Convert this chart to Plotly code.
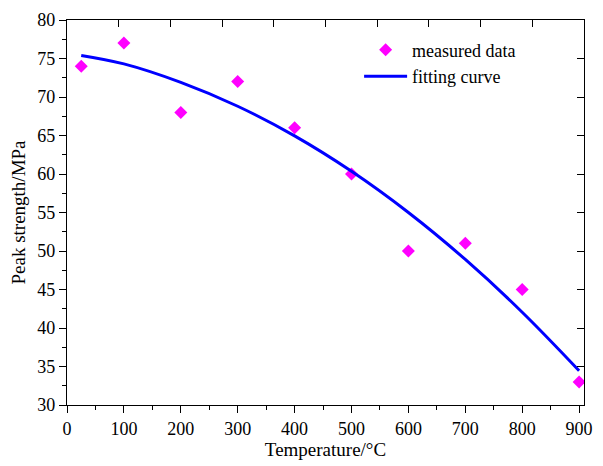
import plotly.graph_objects as go

# Measured peak strength at each temperature
temperature = [25, 100, 200, 300, 400, 500, 600, 700, 800, 900]
peak_strength = [74, 77, 68, 72, 66, 60, 50, 51, 45, 33]

# Fitted curve (sampled)
fit_temperature = [25, 100, 200, 300, 400, 500, 600, 700, 800, 900]
fit_strength = [75.4, 74.3, 71.9, 68.8, 64.95, 60.35, 55.0, 48.9, 42.05, 34.45]

FONT = "Liberation Serif"
X_RANGE = [0, 908.6]
Y_RANGE = [30, 80]

fig = go.Figure()

fig.add_trace(go.Scatter(
    x=temperature, y=peak_strength, mode="markers", name="measured data",
    marker=dict(symbol="diamond", size=10, color="#FF00FF", line=dict(width=0)),
))
fig.add_trace(go.Scatter(
    x=fit_temperature, y=fit_strength, mode="lines", name="fitting curve",
    line=dict(color="#0000FF", width=3, shape="spline", smoothing=1.0),
))
# helper trace so the mirrored top/right axes are drawn
fig.add_trace(go.Scatter(
    x=[None], y=[None], xaxis="x2", yaxis="y2", mode="markers",
    showlegend=False, hoverinfo="skip",
))

axis_common = dict(showline=True, linecolor="black", linewidth=1.3,
                   showgrid=False, zeroline=False, ticks="outside",
                   tickcolor="black", tickwidth=1.3,
                   tickfont=dict(family=FONT, size=18, color="black"))

fig.update_layout(
    width=603, height=466,
    margin=dict(l=67, r=10, t=16, b=57),
    paper_bgcolor="white", plot_bgcolor="white",
    font=dict(family=FONT, color="black"),
    xaxis=dict(range=X_RANGE, dtick=100, tick0=0, ticklen=7,
               minor=dict(dtick=50, tick0=0, ticklen=4, ticks="outside",
                          tickcolor="black", tickwidth=1.3),
               title=dict(text="Temperature/°C", font=dict(family=FONT, size=19),
                          standoff=4),
               **axis_common),
    yaxis=dict(range=Y_RANGE, dtick=5, tick0=30, ticklen=7,
               minor=dict(dtick=2.5, tick0=30, ticklen=4, ticks="outside",
                          tickcolor="black", tickwidth=1.3),
               title=dict(text="Peak strength/MPa", font=dict(family=FONT, size=19),
                          standoff=6),
               **axis_common),
    xaxis2=dict(overlaying="x", side="top", anchor="y", range=[0, 10], dtick=1,
                showline=True, linecolor="black", linewidth=1.3, showgrid=False,
                zeroline=False, ticks="inside", ticklen=7, tickwidth=1.3,
                tickcolor="black", showticklabels=False),
    yaxis2=dict(overlaying="y", side="right", anchor="x", range=Y_RANGE, dtick=5,
                tick0=30, showline=True, linecolor="black", linewidth=1.3,
                showgrid=False, zeroline=False, ticks="inside", ticklen=7,
                tickwidth=1.3, tickcolor="black", showticklabels=False),
    legend=dict(x=0.565, y=0.97, xanchor="left", yanchor="top",
                bgcolor="rgba(0,0,0,0)", borderwidth=0,
                font=dict(family=FONT, size=18, color="black"),
                itemwidth=43, tracegroupgap=0),
    showlegend=True,
)

fig.write_html("out.html")
